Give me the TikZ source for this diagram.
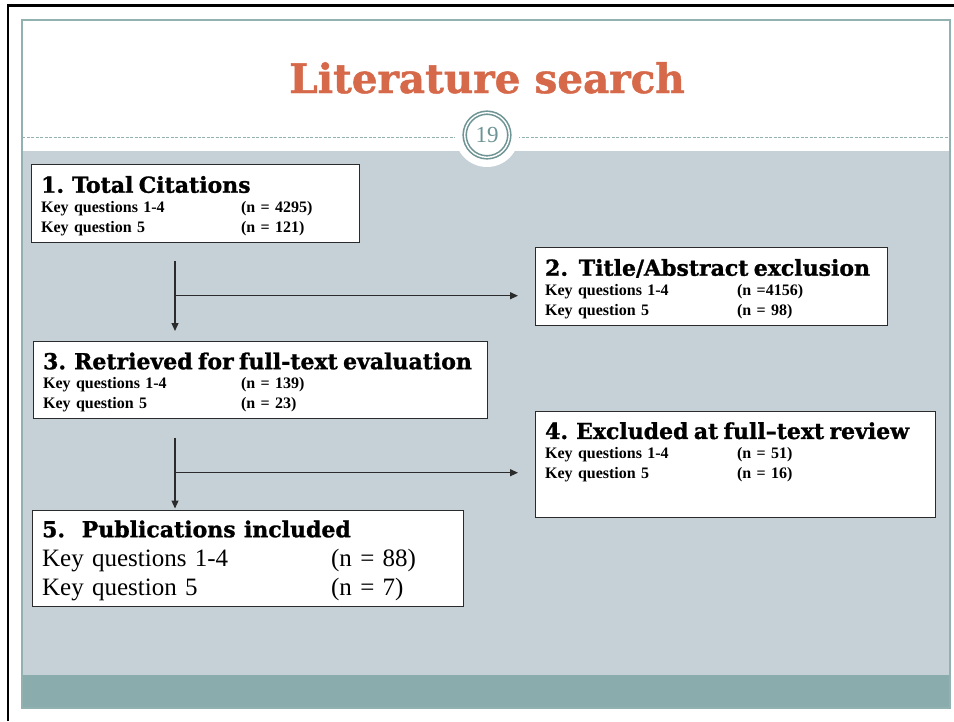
\documentclass[tikz,border=0pt]{standalone}
\usepackage{fontspec}
\setmainfont{Liberation Serif}
\newfontfamily\headfont[FakeBold=1.2]{DejaVu Serif}
\usepackage{xcolor}
\usepackage{tikz}
\usetikzlibrary{positioning, arrows.meta, calc}

\definecolor{panelgray}{HTML}{C5D1D7}
\definecolor{footerteal}{HTML}{8AACAC}
\definecolor{slideline}{HTML}{92B2B2}
\definecolor{ringteal}{HTML}{6F9494}
\definecolor{titlecoral}{HTML}{D6694A}
\definecolor{boxline}{HTML}{2B2B2B}

\newcommand{\kq}[3]{\makebox[#1][l]{#2}#3}
\newcommand{\stagehead}[1]{{\headfont\bfseries\fontsize{22}{24}\selectfont\rule{0pt}{21pt}#1}}

\begin{document}
\begin{tikzpicture}[
    x=1pt, y=-1pt,
    stage/.style={rectangle, draw=boxline, line width=1.3pt, fill=white, anchor=north west, align=left, inner xsep=9.5pt, inner ysep=0pt, font=\bfseries\fontsize{16}{19.7}\selectfont},
    arrow/.style={-{Triangle[length=8pt, width=7pt]}, line width=1.2pt, draw=boxline}
]

\useasboundingbox (0,0) rectangle (954,721);

% slide and frame
\fill[white] (22,20) rectangle (950,708);
\fill[panelgray] (22,150.5) rectangle (950,675);
\fill[footerteal] (22,675) rectangle (950,708);
\draw[slideline, line width=1.2pt] (22,20) rectangle (950,708);
\draw[black, line width=2.2pt] (8,721) -- (8,5.5) -- (954,5.5);
\draw[slideline, line width=0.9pt, dash pattern=on 3pt off 1.5pt] (22,137.5) -- (950,137.5);
\fill[white] (487,135) circle (32);

\node[font=\headfont\bfseries\fontsize{40.5}{42}\selectfont, text=titlecoral, anchor=base] (title) at (487,93) {Literature search};
\node[circle, draw=ringteal, line width=1.6pt, double=white, double distance=1.4pt, minimum size=44.6pt, inner sep=0pt, text=ringteal, font=\fontsize{23}{23}\selectfont] (pagenum) at (487,135) {19};

\node[stage, text width=309pt, minimum height=78pt] (box1) at (31,164) {\stagehead{1. Total Citations}\\
    \kq{200pt}{Key questions 1-4}{(n = 4295)}\\
    \kq{200pt}{Key question 5}{(n = 121)}};
\node[stage, text width=333pt, minimum height=78pt] (box2) at (535,247) {\stagehead{2.\ \ Title/Abstract exclusion}\\
    \kq{192pt}{Key questions 1-4}{(n =4156)}\\
    \kq{192pt}{Key question 5}{(n = 98)}};
\node[stage, text width=435pt, minimum height=77pt] (box3) at (33,341) {\stagehead{3. Retrieved for full-text evaluation}\\
    \kq{198pt}{Key questions 1-4}{(n = 139)}\\
    \kq{198pt}{Key question 5}{(n = 23)}};
\node[stage, text width=381pt, minimum height=106pt] (box4) at (535,410.5) {\stagehead{4. Excluded at full–text review}\\
    \kq{192pt}{Key questions 1-4}{(n = 51)}\\
    \kq{192pt}{Key question 5}{(n = 16)}\rule[-32pt]{0pt}{32pt}};
\node[stage, text width=412pt, minimum height=96.5pt, font=\fontsize{25}{29}\selectfont] (box5) at (32,509.5) {\stagehead{5.\ \ Publications included}\\
    \kq{289pt}{Key questions 1-4}{(n = 88)}\\
    \kq{289pt}{Key question 5}{(n = 7)}};

\coordinate (split1) at (175,295.7);
\coordinate (split2) at (175,472.7);

\draw[arrow, shorten <=18pt, shorten >=10pt] (box1.south -| split1) -- (box3.north -| split1);
\draw[arrow, shorten >=17pt] (split1) -- (split1 -| box2.west);
\draw[arrow, shorten <=19pt, shorten >=1pt] (box3.south -| split2) -- (box5.north -| split2);
\draw[arrow, shorten >=17pt] (split2) -- (split2 -| box4.west);

\end{tikzpicture}
\end{document}
